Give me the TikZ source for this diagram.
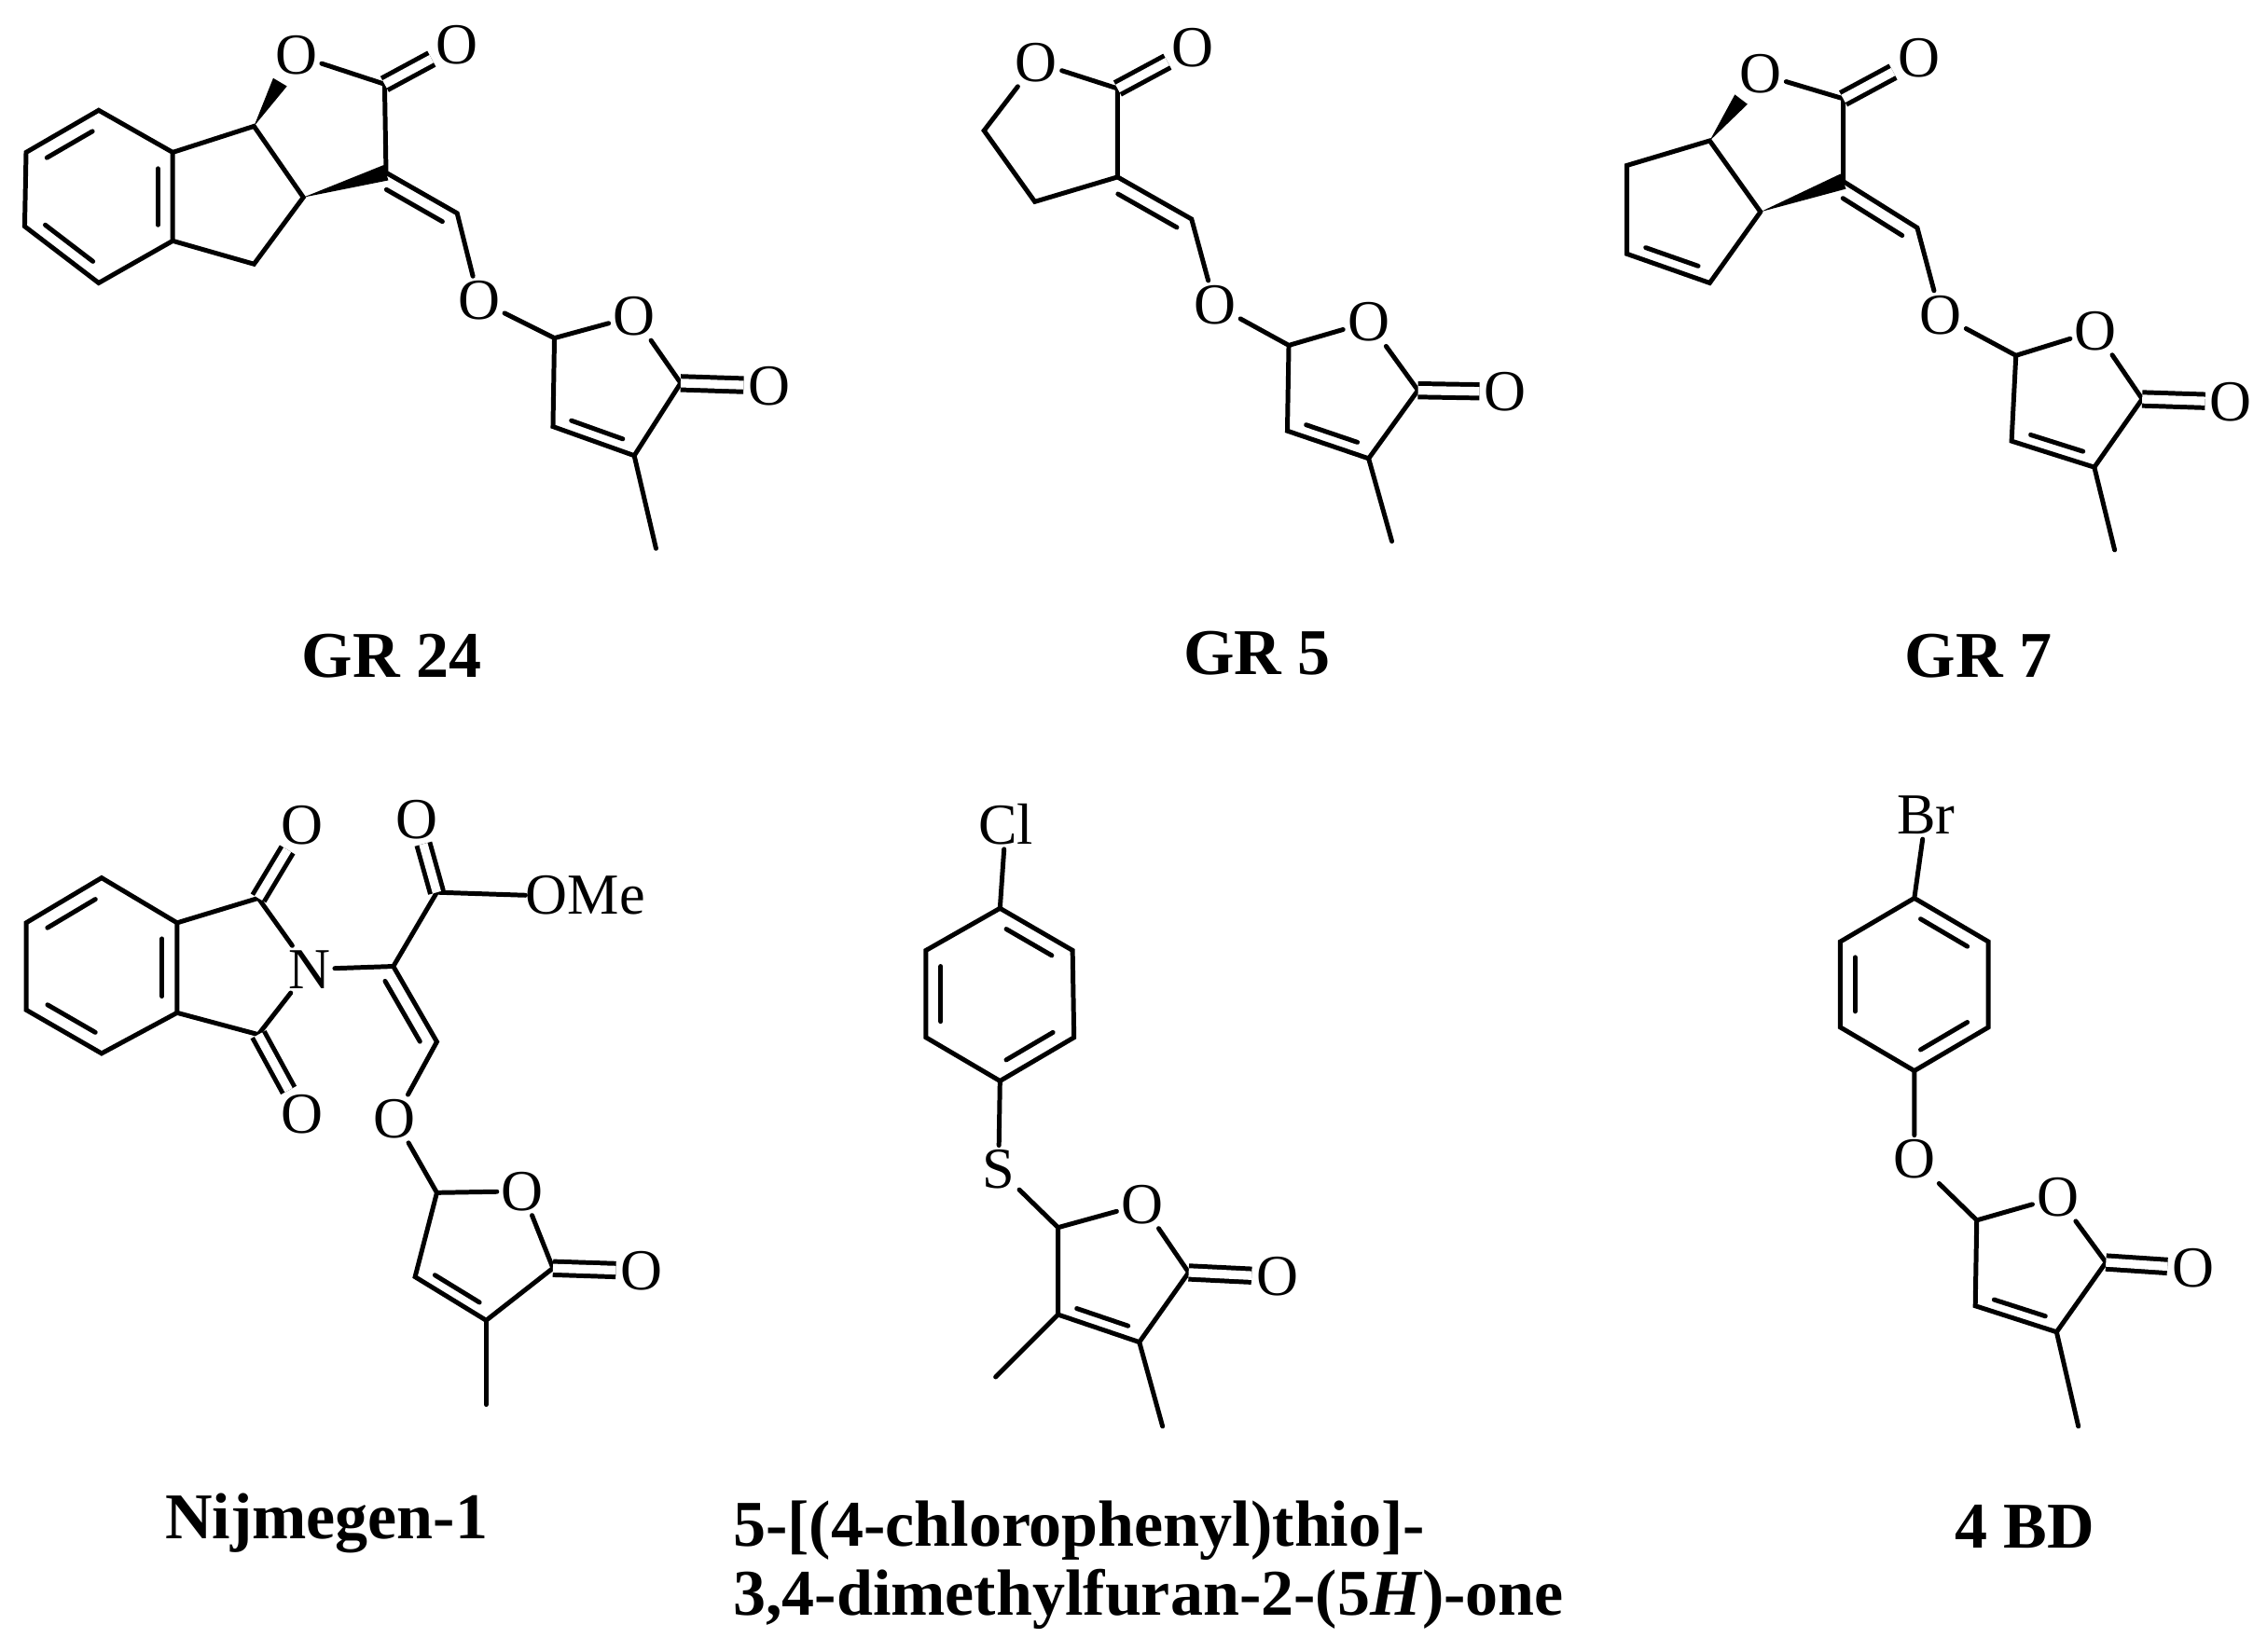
\documentclass[tikz,border=0pt]{standalone}
\usepackage{fontspec}
\setmainfont{Liberation Serif}
\usetikzlibrary{calc}
\tikzset{
 bond/.style={line width=3.2pt,line cap=round},
 dbl/.style={line width=3.2pt,double,double distance=6pt},
 atom/.style={font=\fontsize{40}{44}\selectfont,inner sep=3pt},
 lbl/.style={font=\bfseries\fontsize{45}{52}\selectfont,inner sep=0pt},
}
\newcommand\inb[3]{\draw[bond,shorten <=5pt,shorten >=5pt] ($(#1)!0.2!(#3)$) -- ($(#2)!0.2!(#3)$);}
\newcommand\exd[2]{\draw[bond,shorten <=6pt,shorten >=6pt] ($(#1)!10pt!-90:(#2)$) -- ($(#2)!10pt!90:(#1)$);}
\newcommand\wdg[2]{\fill ($(#1)$) -- ($(#2)!5.5pt!90:(#1)$) -- ($(#2)!5.5pt!-90:(#1)$) -- cycle;}
\begin{document}
\begin{tikzpicture}[x=1pt,y=-1pt]
\path[use as bounding box,fill=white] (0,0) rectangle (1562,1138);
%% ---------- GR 24
\coordinate (a1) at (68,76); \coordinate (a2) at (18,105); \coordinate (a3) at (17,156);
\coordinate (a4) at (68,195); \coordinate (a5) at (119,166); \coordinate (a6) at (119,105);
\coordinate (ac) at (68,136);
\coordinate (a8b) at (175,87); \coordinate (a3a) at (209,136); \coordinate (ach) at (175,182);
\coordinate (a2c) at (265,58); \coordinate (a3c) at (266,119); \coordinate (aex) at (315,147);
\coordinate (f5) at (382,233); \coordinate (f2) at (469,264); \coordinate (f3) at (437,314);
\coordinate (f4) at (381,294); \coordinate (fc) at (421,265); \coordinate (fme) at (452,378);
\node[atom] (ao1) at (204,38) {O};
\node[atom] (aoc) at (315,31) {O};
\node[atom] (aox) at (330,207) {O};
\node[atom] (afo) at (437,218) {O};
\node[atom] (afoc) at (530,266) {O};
\draw[bond] (a1)--(a2)--(a3)--(a4)--(a5)--(a6)--cycle;
\inb{a1}{a2}{ac} \inb{a3}{a4}{ac} \inb{a5}{a6}{ac}
\draw[bond] (a6)--(a8b)--(a3a)--(ach)--(a5);
\draw[bond] (ao1)--(a2c)--(a3c);
\draw[dbl] (a2c)--(aoc);
\coordinate (aw1) at ($(a8b)!0.62!(ao1)$);
\wdg{a8b}{aw1}
\wdg{a3a}{a3c}
\draw[bond] (a3c)--(aex)--(aox)--(f5)--(afo)--(f2)--(f3)--(f4)--(f5);
\exd{a3c}{aex}
\draw[dbl] (f2)--(afoc);
\inb{f3}{f4}{fc}
\draw[bond] (f3)--(fme);
\node[lbl] (l1) at (270,452) {GR 24};
%% ---------- GR 5
\node[atom] (bo1) at (714,43) {O};
\node[atom] (boc) at (822,33) {O};
\coordinate (b2) at (770,61); \coordinate (b3) at (770,122); \coordinate (b4) at (713,139); \coordinate (b5) at (678,90);
\coordinate (bex) at (821,151);
\node[atom] (box) at (837,210) {O};
\coordinate (g5) at (888,238); \coordinate (g2) at (977,269); \coordinate (g3) at (943,316);
\coordinate (g4) at (887,297); \coordinate (gc) at (928,268); \coordinate (gme) at (959,373);
\node[atom] (gfo) at (943,222) {O};
\node[atom] (gfoc) at (1037,270) {O};
\draw[bond] (bo1)--(b2)--(b3)--(b4)--(b5)--(bo1);
\draw[dbl] (b2)--(boc);
\draw[bond] (b3)--(bex)--(box)--(g5)--(gfo)--(g2)--(g3)--(g4)--(g5);
\exd{b3}{bex}
\draw[dbl] (g2)--(gfoc);
\inb{g3}{g4}{gc}
\draw[bond] (g3)--(gme);
\node[lbl] (l2) at (866,450) {GR 5};
%% ---------- GR 7
\node[atom] (co1) at (1213,51) {O};
\node[atom] (coc) at (1322,40) {O};
\coordinate (c2) at (1270,68); \coordinate (c3) at (1270,125); \coordinate (c3a) at (1213,146);
\coordinate (c6a) at (1178,97); \coordinate (c6) at (1121,114); \coordinate (c5) at (1121,175);
\coordinate (c4) at (1178,195); \coordinate (cc) at (1162,145);
\coordinate (cex) at (1321,157);
\node[atom] (cox) at (1337,217) {O};
\coordinate (h5) at (1389,245); \coordinate (h2) at (1476,275); \coordinate (h3) at (1443,322);
\coordinate (h4) at (1386,304); \coordinate (hc) at (1428,275); \coordinate (hme) at (1457,379);
\node[atom] (hfo) at (1444,228) {O};
\node[atom] (hfoc) at (1537,277) {O};
\draw[bond] (co1)--(c2)--(c3);
\draw[dbl] (c2)--(coc);
\draw[bond] (c3a)--(c6a)--(c6)--(c5)--(c4)--(c3a);
\inb{c5}{c4}{cc}
\coordinate (cw1) at ($(c6a)!0.62!(co1)$);
\wdg{c6a}{cw1}
\wdg{c3a}{c3}
\draw[bond] (c3)--(cex)--(cox)--(h5)--(hfo)--(h2)--(h3)--(h4)--(h5);
\exd{c3}{cex}
\draw[dbl] (h2)--(hfoc);
\inb{h3}{h4}{hc}
\draw[bond] (h3)--(hme);
\node[lbl] (l3) at (1363,452) {GR 7};
%% ---------- Nijmegen-1
\coordinate (n1) at (70,605); \coordinate (n2) at (18,636); \coordinate (n3) at (18,696);
\coordinate (n4) at (70,726); \coordinate (n5) at (122,698); \coordinate (n6) at (122,636);
\coordinate (nc) at (70,666);
\coordinate (nk1) at (178,619); \coordinate (nk3) at (178,713);
\node[atom] (nN) at (213,668) {N};
\node[atom] (nO1) at (208,569) {O};
\node[atom] (nO3) at (208,768) {O};
\coordinate (nA) at (271,666); \coordinate (nE) at (301,615); \coordinate (nB) at (301,718);
\node[atom] (nOE) at (287,565) {O};
\node[atom,anchor=west,inner sep=0pt] (nOMe) at (362,617) {OMe};
\node[atom] (nOx) at (272,771) {O};
\coordinate (m5) at (301,822); \coordinate (m2) at (381,874); \coordinate (m3) at (335,910);
\coordinate (m4) at (286,880); \coordinate (mc) at (333,861); \coordinate (mme) at (335,968);
\node[atom] (mfo) at (360,821) {O};
\node[atom] (mfoc) at (442,876) {O};
\draw[bond] (n1)--(n2)--(n3)--(n4)--(n5)--(n6)--cycle;
\inb{n1}{n2}{nc} \inb{n3}{n4}{nc} \inb{n5}{n6}{nc}
\draw[bond] (n6)--(nk1)--(nN)--(nk3)--(n5);
\draw[dbl] (nk1)--(nO1);
\draw[dbl] (nk3)--(nO3);
\draw[bond] (nN)--(nA)--(nE)--(nOMe.west);
\draw[dbl] (nE)--(nOE);
\draw[bond] (nA)--(nB)--(nOx)--(m5)--(mfo)--(m2)--(m3)--(m4)--(m5);
\exd{nA}{nB}
\draw[dbl] (m2)--(mfoc);
\inb{m3}{m4}{mc}
\draw[bond] (m3)--(mme);
\node[lbl] (l4) at (225,1050) {Nijmegen-1};
%% ---------- chlorophenylthio
\node[atom] (pCl) at (693,568) {Cl};
\coordinate (p1) at (689,626); \coordinate (p2) at (739,655); \coordinate (p3) at (740,715);
\coordinate (p4) at (689,745); \coordinate (p5) at (638,715); \coordinate (p6) at (638,655);
\coordinate (pc) at (689,685);
\node[atom] (pS) at (688,806) {S};
\coordinate (q5) at (729,846); \coordinate (q2) at (819,877); \coordinate (q3) at (785,925);
\coordinate (q4) at (729,906); \coordinate (qc) at (770,877);
\coordinate (qm4) at (686,949); \coordinate (qm3) at (801,983);
\node[atom] (qfo) at (787,830) {O};
\node[atom] (qfoc) at (880,880) {O};
\draw[bond] (p1)--(p2)--(p3)--(p4)--(p5)--(p6)--cycle;
\inb{p1}{p2}{pc} \inb{p3}{p4}{pc} \inb{p5}{p6}{pc}
\draw[bond] (p1)--(pCl);
\draw[bond] (p4)--(pS)--(q5)--(qfo)--(q2)--(q3)--(q4)--(q5);
\draw[dbl] (q2)--(qfoc);
\inb{q3}{q4}{qc}
\draw[bond] (q4)--(qm4); \draw[bond] (q3)--(qm3);
\node[lbl,align=left,anchor=north west] (l5) at (505,1034) {5-[(4-chlorophenyl)thio]-\\[-4pt]3,4-dimethylfuran-2-(5\textit{H})-one};
%% ---------- 4 BD
\node[atom] (rBr) at (1327,562) {Br};
\coordinate (r1) at (1319,619); \coordinate (r2) at (1370,649); \coordinate (r3) at (1370,708);
\coordinate (r4) at (1319,738); \coordinate (r5) at (1268,708); \coordinate (r6) at (1268,649);
\coordinate (rc) at (1319,678);
\node[atom] (rO) at (1319,799) {O};
\coordinate (s5) at (1362,841); \coordinate (s2) at (1451,870); \coordinate (s3) at (1417,918);
\coordinate (s4) at (1361,900); \coordinate (sc) at (1402,871); \coordinate (sme) at (1432,983);
\node[atom] (sfo) at (1418,825) {O};
\node[atom] (sfoc) at (1511,874) {O};
\draw[bond] (r1)--(r2)--(r3)--(r4)--(r5)--(r6)--cycle;
\inb{r1}{r2}{rc} \inb{r3}{r4}{rc} \inb{r5}{r6}{rc}
\draw[bond] (r1)--(rBr);
\draw[bond] (r4)--(rO)--(s5)--(sfo)--(s2)--(s3)--(s4)--(s5);
\draw[dbl] (s2)--(sfoc);
\inb{s3}{s4}{sc}
\draw[bond] (s3)--(sme);
\node[lbl] (l6) at (1395,1052) {4 BD};
\end{tikzpicture}
\end{document}
